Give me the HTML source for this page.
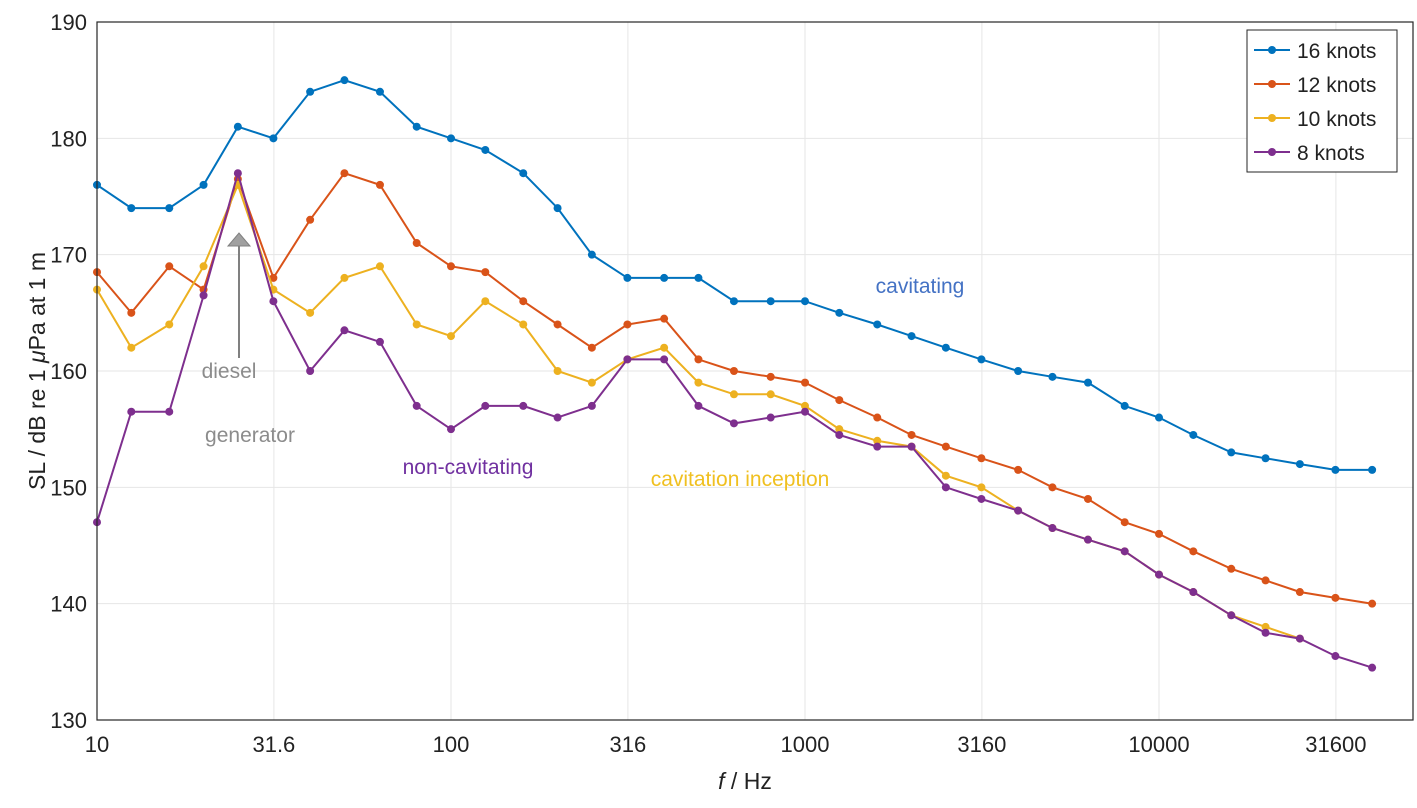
<!DOCTYPE html>
<html><head><meta charset="utf-8"><style>
body{margin:0;background:#fff;font-family:"Liberation Sans",Arial,sans-serif}
svg text{font-family:"Liberation Sans",Arial,sans-serif}
</style></head><body>
<svg id="chart" width="1417" height="803" xmlns="http://www.w3.org/2000/svg">
<rect x="0" y="0" width="1417" height="803" fill="#fff"/>
<g id="grid"></g>
<g id="series"></g>
<g id="axes"></g>
</svg>
<script>
const freqs=[10,12.5,16,20,25,31.5,40,50,63,80,100,125,160,200,250,315,400,500,630,800,1000,1250,1600,2000,2500,3150,4000,5000,6300,8000,10000,12500,16000,20000,25000,31500,40000];
const s16=[176,174,174,176,181,180,184,185,184,181,180,179,177,174,170,168,168,168,166,166,166,165,164,163,162,161,160,159.5,159,157,156,154.5,153,152.5,152,151.5,151.5];
const s12=[168.5,165,169,167,176.5,168,173,177,176,171,169,168.5,166,164,162,164,164.5,161,160,159.5,159,157.5,156,154.5,153.5,152.5,151.5,150,149,147,146,144.5,143,142,141,140.5,140];
const s10=[167,162,164,169,176,167,165,168,169,164,163,166,164,160,159,161,162,159,158,158,157,155,154,153.5,151,150,148,146.5,145.5,144.5,142.5,141,139,138,137,null,null];
const s8=[147,156.5,156.5,166.5,177,166,160,163.5,162.5,157,155,157,157,156,157,161,161,157,155.5,156,156.5,154.5,153.5,153.5,150,149,148,146.5,145.5,144.5,142.5,141,139,137.5,137,135.5,134.5];
const xTicks=[10,31.6,100,316,1000,3160,10000,31600];
const xTickLabels=["10","31.6","100","316","1000","3160","10000","31600"];
const yTicks=[130,140,150,160,170,180,190];
const seriesNames=["16 knots","12 knots","10 knots","8 knots"];
const colors=["#0072BD","#D95319","#EDB120","#7E2F8E"];
const L=97,R=1413,T=22,B=720;
const X=f=>L+354*Math.log10(f/10);
const Y=v=>B-(v-130)*(B-T)/60;
const NS="http://www.w3.org/2000/svg";
function mk(tag,attrs,parent,txt){const e=document.createElementNS(NS,tag);for(const k in attrs)e.setAttribute(k,attrs[k]);if(txt!=null)e.textContent=txt;parent.appendChild(e);return e;}
const grid=document.getElementById('grid'),ser=document.getElementById('series'),ax=document.getElementById('axes');
xTicks.forEach((t,i)=>{
 const g=mk('line',{x1:X(t),x2:X(t),y1:T,y2:B,stroke:'#e6e6e6','stroke-width':1},grid);
 
 
 const lb=mk('text',{x:X(t),y:752,'text-anchor':'middle','font-size':22,fill:'#222'},ax,xTickLabels[i]);
 
 
});
yTicks.forEach(t=>{
 const g=mk('line',{x1:L,x2:R,y1:Y(t),y2:Y(t),stroke:'#e6e6e6','stroke-width':1},grid);
 
 
 const lb=mk('text',{x:L-10,y:Y(t)+8,'text-anchor':'end','font-size':22,fill:'#222'},ax,String(t));
 
 
});
const box=mk('rect',{x:L,y:T,width:R-L,height:B-T,fill:'none',stroke:'#262626','stroke-width':1.2},ax);


[s16,s12,s10,s8].forEach((s,si)=>{
 let d='';let pen=false;
 s.forEach((v,i)=>{if(v==null){pen=false;return;}d+=(pen?'L':'M')+X(freqs[i]).toFixed(1)+','+Y(v).toFixed(1);pen=true;});
 const p=mk('path',{d:d,fill:'none',stroke:colors[si],'stroke-width':2},ser);
 
 
 s.forEach((v,i)=>{if(v==null)return;
  const c=mk('circle',{cx:X(freqs[i]),cy:Y(v),r:4,fill:colors[si]},ser);
  
  
 });
});
const arrow=mk('g',{},ax);


mk('line',{x1:239,x2:239,y1:358,y2:246,stroke:'#808080','stroke-width':2},arrow);
mk('polygon',{points:'228,246 250,246 239,233',fill:'#a0a0a0',stroke:'#808080'},arrow);
const ann=[["diesel",229,378,"#8c8c8c","middle"],["generator",250,442,"#8c8c8c","middle"],["non-cavitating",468,474,"#7030A0","middle"],["cavitation inception",740,486,"#F0C020","middle"],["cavitating",920,293,"#4472C4","middle"]];
ann.forEach(a=>{const t=mk('text',{x:a[1],y:a[2],'text-anchor':a[4],'font-size':21,fill:a[3]},ax,a[0]);
 
 
});
const xt=mk('text',{x:745,y:789,'text-anchor':'middle','font-size':23,fill:'#222'},ax);


xt.innerHTML='<tspan font-style="italic">f</tspan> / Hz';
const yt=mk('text',{x:0,y:0,'text-anchor':'middle','font-size':23,fill:'#222',transform:'translate(45,371) rotate(-90)'},ax);


yt.innerHTML='SL / dB re 1 <tspan font-style="italic">μ</tspan>Pa at 1 m';
const lg=mk('g',{},ax);


mk('rect',{x:1247,y:30,width:150,height:142,fill:'#fff',stroke:'#262626','stroke-width':1},lg);
seriesNames.forEach((n,i)=>{
 const y=50+i*34;
 const e=mk('g',{},lg);
 
 
 mk('line',{x1:1254,x2:1290,y1:y,y2:y,stroke:colors[i],'stroke-width':2},e);
 mk('circle',{cx:1272,cy:y,r:4,fill:colors[i]},e);
 mk('text',{x:1297,y:y+8,'font-size':21,fill:'#222'},e,n);
});
</script>
</body></html>
